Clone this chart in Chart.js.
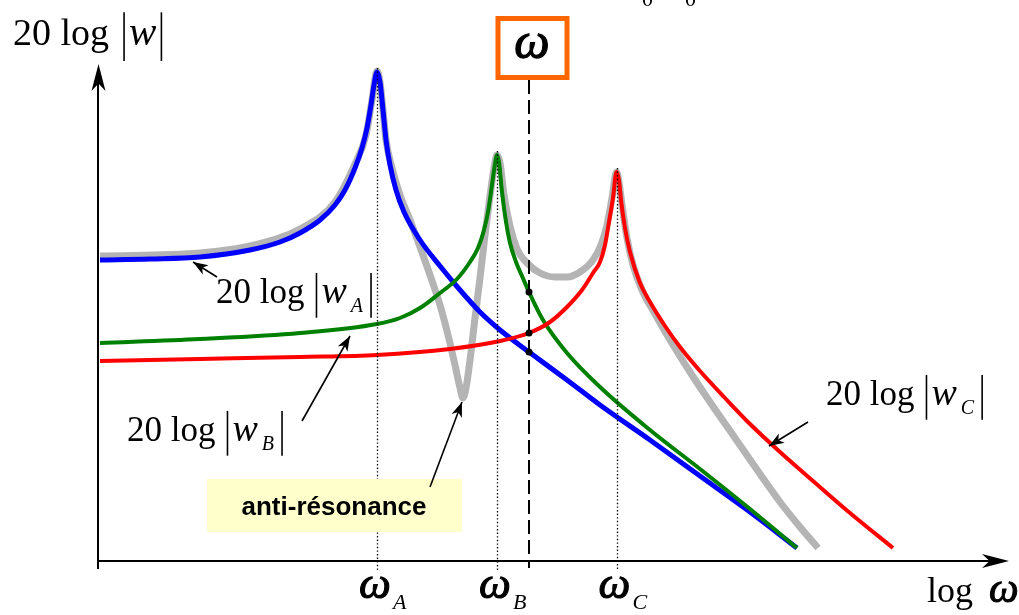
<!DOCTYPE html>
<html>
<head>
<meta charset="utf-8">
<script src="https://cdn.jsdelivr.net/npm/chart.js@4.4.1/dist/chart.umd.min.js"></script>
<style>
  html, body { margin:0; padding:0; background:#fff; }
</style>
</head>
<body>
<canvas id="bode" width="1019" height="615"></canvas>
<script>
// abscisse : log ω (unités arbitraires), ordonnée : 20 log|w| (unités arbitraires)
const courbeA = [[0.2,60.2],[5.2,60.4],[10.2,60.8],[15.2,62.2],[18.2,63.8],[20.2,65.6],[22.2,68.2],[23.7,71.2],
  [24.7,74.2],[25.7,78.6],[26.4,82.6],[26.9,86.6],[27.3,91.2],[27.6,95.2],[27.9,97.8],[28.2,95.8],[28.5,90.2],
  [28.8,84.2],[29.2,79.2],[29.8,74.2],[30.6,69.8],[32.2,64.2],[34.2,59.0],[36.2,54.2],[38.2,49.8],[40.2,46.2],
  [43.1,41.8],[46.9,36.2],[50.2,31.2],[55.2,24.2],[60.2,17.0],[65.2,9.8],[69.9,2.6]];

const courbeB = [[0.2,43.6],[10.2,44.4],[20.2,45.6],[27.9,47.4],[30.2,48.6],[32.2,50.6],[34.2,53.6],[35.9,56.4],
  [37.2,59.8],[38.0,62.6],[38.6,66.2],[39.0,69.8],[39.4,75.2],[39.7,79.4],[39.9,81.2],[40.1,79.8],[40.4,73.8],
  [40.8,67.8],[41.2,63.6],[41.8,59.8],[42.4,57.0],[43.1,53.8],[44.5,48.2],[46.9,41.6],[50.2,34.8],[55.2,26.2],
  [60.2,18.4],[65.2,10.4],[69.9,2.6]];

const courbeC = [[0.2,40.0],[10.2,40.4],[20.2,40.8],[27.9,41.2],[35.2,42.4],[40.2,44.0],[43.1,45.6],[45.2,47.8],
  [46.9,50.8],[48.4,54.2],[49.5,57.6],[50.2,59.8],[50.7,63.2],[51.1,67.8],[51.5,72.6],[51.85,77.8],[52.1,76.2],
  [52.3,72.2],[52.7,66.6],[53.2,61.8],[54.2,55.6],[55.2,51.8],[56.7,47.0],[58.2,42.8],[60.2,38.0],[62.7,32.6],
  [65.2,27.4],[68.2,21.8],[71.5,16.0],[75.2,9.6],[79.5,2.6]];

// somme (courbe grise)
const courbeTotale = [[0.2,61.0],[10.2,61.6],[15.2,63.0],[20.2,66.4],[23.7,71.8],[25.7,79.4],[26.8,85.2],[27.4,92.2],
  [27.9,98.0],[28.2,95.8],[28.5,90.2],[28.8,84.2],[29.4,78.6],[30.2,73.2],[31.2,68.2],[32.2,62.8],[33.2,57.2],
  [34.2,51.2],[35.0,45.2],[35.7,39.2],[36.2,34.6],[36.5,32.6],[36.8,34.6],[37.2,40.2],[37.7,48.6],[38.2,56.6],
  [38.7,65.2],[39.2,73.0],[39.6,78.6],[39.9,81.2],[40.2,79.6],[40.6,73.2],[41.2,67.0],[42.0,62.0],[42.9,59.6],
  [44.2,57.6],[45.7,56.8],[46.9,56.8],[48.2,57.8],[49.5,60.2],[50.3,63.2],[50.9,67.2],[51.4,72.6],[51.85,77.8],
  [52.1,75.8],[52.4,71.2],[52.9,64.6],[53.5,59.2],[54.4,54.2],[55.7,49.4],[57.2,44.2],[59.2,37.8],[61.2,31.8],
  [63.7,24.6],[66.2,17.4],[68.2,11.8],[70.2,6.8],[72.0,2.6]];

const resonances = [27.9, 39.9, 51.85];   // ωA, ωB, ωC
const nomsResonances = ['A', 'B', 'C'];
const omegaCurseur = 43.1;
const pointsCurseur = [53.8, 45.6, 41.8]; // |wB|, |wC|, |wA| à ω

const toXY = arr => arr.map(p => ({x: p[0], y: p[1]}));
const pics = [courbeA, courbeB, courbeC].map(c => Math.max(...c.map(p => p[1])));

function pointe(ctx, x, y, ang, len, half) {
  ctx.save();
  ctx.translate(x, y);
  ctx.rotate(ang);
  ctx.beginPath();
  ctx.moveTo(0, 0);
  ctx.lineTo(-len, -half);
  ctx.lineTo(-len * 0.72, 0);
  ctx.lineTo(-len, half);
  ctx.closePath();
  ctx.fill();
  ctx.restore();
}

function fleche(ctx, x1, y1, x2, y2) {
  ctx.beginPath();
  ctx.moveTo(x1, y1);
  ctx.lineTo(x2, y2);
  ctx.stroke();
  pointe(ctx, x2, y2, Math.atan2(y2 - y1, x2 - x1), 15, 5.5);
}

// ω un peu épaissi
function omega(ctx, x, y, size) {
  ctx.font = 'italic ' + size + 'px "Liberation Serif"';
  ctx.lineWidth = size / 40;
  ctx.fillText('ω', x, y);
  ctx.strokeText('ω', x, y);
}

// "20 log |w_X|"
function etiquette(ctx, x, base, sub, size, gap) {
  ctx.font = size + 'px "Liberation Serif"';
  ctx.fillText('20 log', x, base);
  const b1 = x + ctx.measureText('20 log').width + gap;
  ctx.lineWidth = 1.6;
  ctx.beginPath();
  ctx.moveTo(b1, base - size * 0.86); ctx.lineTo(b1, base + size * 0.42);
  ctx.stroke();
  ctx.font = 'italic ' + Math.round(size * 1.08) + 'px "Liberation Serif"';
  ctx.fillText('w', b1 + 5, base);
  let end = b1 + 5 + ctx.measureText('w').width;
  if (sub) {
    ctx.font = 'italic ' + Math.round(size * 0.56) + 'px "Liberation Serif"';
    ctx.fillText(sub, end + 4, base + 9);
    end += 4 + ctx.measureText(sub).width + 8;
  } else {
    end += 5;
  }
  ctx.beginPath();
  ctx.moveTo(end, base - size * 0.86); ctx.lineTo(end, base + size * 0.42);
  ctx.stroke();
}

const decor = {
  id: 'decor',
  afterDatasetsDraw(chart) {
    const {ctx, scales: {x, y}} = chart;
    const x0 = x.getPixelForValue(0), y0 = y.getPixelForValue(0);
    ctx.save();
    ctx.fillStyle = '#000';
    ctx.strokeStyle = '#000';

    // pointillés aux pulsations de résonance
    ctx.lineWidth = 1.3;
    ctx.setLineDash([1.4, 2.2]);
    resonances.forEach((w, i) => {
      const px = Math.round(x.getPixelForValue(w)) + 0.5;
      ctx.beginPath();
      ctx.moveTo(px, y.getPixelForValue(pics[i]) - 4);
      ctx.lineTo(px, y0 + 10);
      ctx.stroke();
    });

    // tirets : pulsation ω
    const pc = Math.round(x.getPixelForValue(omegaCurseur));
    ctx.lineWidth = 2;
    ctx.setLineDash([14, 6]);
    ctx.beginPath();
    ctx.moveTo(pc, 80);
    ctx.lineTo(pc, y0 + 7);
    ctx.stroke();
    ctx.setLineDash([]);

    // axes
    ctx.lineWidth = 2;
    ctx.beginPath();
    ctx.moveTo(x0, y0 + 8); ctx.lineTo(x0, 80);
    ctx.moveTo(x0, y0); ctx.lineTo(995, y0);
    ctx.stroke();
    pointe(ctx, x0 + 0.5, 64, -Math.PI / 2, 27, 7);
    pointe(ctx, 1009, y0, 0, 27, 7);

    // boîte ω
    ctx.strokeStyle = '#FF6600';
    ctx.lineWidth = 5;
    ctx.strokeRect(pc - 31, 18.5, 69, 59);
    ctx.strokeStyle = '#000';
    ctx.fillStyle = '#000';
    ctx.textAlign = 'center';
    omega(ctx, pc + 3, 58, 50);
    ctx.textAlign = 'left';

    // restes de texte en haut
    ctx.font = '22px "Liberation Serif"';
    ctx.fillText('0', 642, 6);
    ctx.fillText('0', 685, 6);

    // étiquettes des axes
    etiquette(ctx, 13, 45, '', 38, 15);
    ctx.font = '36px "Liberation Serif"';
    ctx.fillText('log', 927, 602);
    omega(ctx, 989, 602, 42);

    resonances.forEach((w, i) => {
      const px = x.getPixelForValue(w);
      omega(ctx, px - 18, 598, 45);
      ctx.font = 'italic 22px "Liberation Serif"';
      ctx.fillText(nomsResonances[i], px + 16, 609);
    });

    // étiquettes des courbes
    etiquette(ctx, 216, 303, 'A', 35, 12);
    etiquette(ctx, 127, 441, 'B', 35, 12);
    etiquette(ctx, 826, 405, 'C', 35, 12);
    ctx.lineWidth = 1.6;
    fleche(ctx, 217, 277, 193, 262);
    fleche(ctx, 302, 421, 350, 336);
    fleche(ctx, 808, 422, 769, 446);

    // anti-résonance
    ctx.fillStyle = '#FFFFCC';
    ctx.fillRect(207, 479, 255, 53);
    ctx.fillStyle = '#000';
    ctx.font = 'bold 26px "Liberation Sans"';
    ctx.textAlign = 'center';
    ctx.fillText('anti-résonance', 334, 515);
    ctx.textAlign = 'left';
    fleche(ctx, 430, 487, 462, 402);

    ctx.restore();
  }
};

const ligne = (data, color, width, order) => ({
  data: toXY(data),
  borderColor: color,
  borderWidth: width,
  pointRadius: 0,
  fill: false,
  cubicInterpolationMode: 'monotone',
  borderJoinStyle: 'round',
  order: order
});

new Chart(document.getElementById('bode'), {
  type: 'line',
  data: {
    datasets: [
      ligne(courbeTotale, '#B4B4B4', 7, 4),
      ligne(courbeA, '#0000FF', 5, 3),
      ligne(courbeB, '#008000', 4, 2),
      ligne(courbeC, '#FF0000', 4, 1),
      {
        type: 'scatter',
        data: pointsCurseur.map(v => ({x: omegaCurseur, y: v})),
        pointRadius: 3.5,
        pointBackgroundColor: '#000',
        pointBorderWidth: 0,
        showLine: false,
        order: 0
      }
    ]
  },
  options: {
    responsive: false,
    animation: false,
    devicePixelRatio: 1,
    layout: {padding: {left: 98, right: 11, top: 61, bottom: 54}},
    scales: {
      x: {type: 'linear', min: 0, max: 91, display: false},
      y: {type: 'linear', min: 0, max: 100, display: false}
    },
    plugins: {legend: {display: false}, tooltip: {enabled: false}},
    clip: false
  },
  plugins: [decor]
});
</script>
</body>
</html>
